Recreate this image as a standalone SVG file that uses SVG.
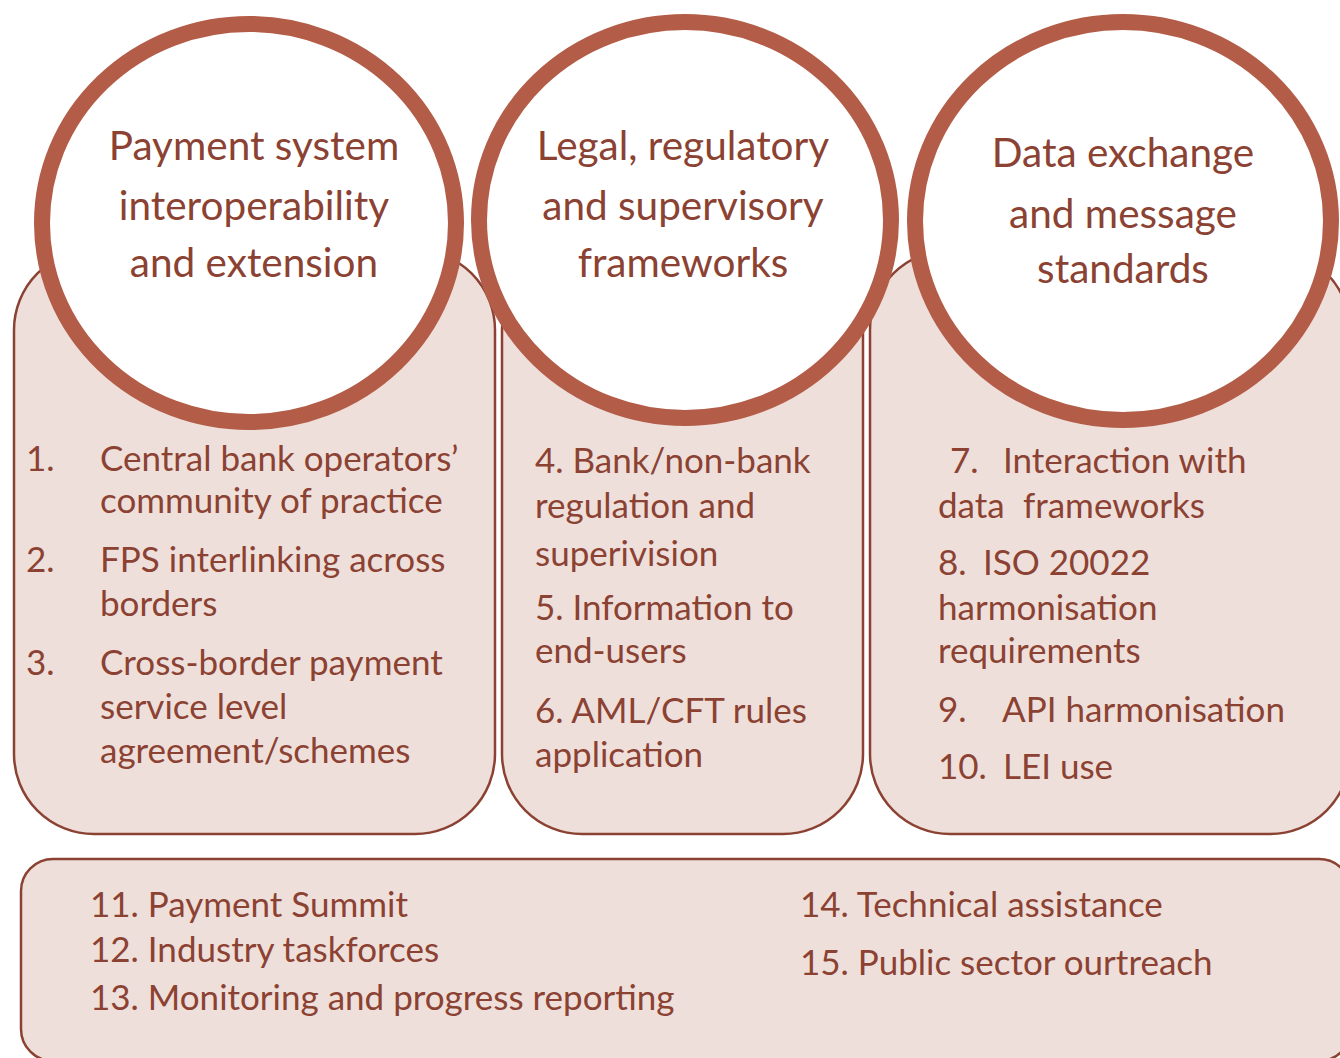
<svg xmlns="http://www.w3.org/2000/svg" width="1340" height="1058" viewBox="0 0 1340 1058">
<style>
.box{fill:#EFDFDB;stroke:#8B4232;stroke-width:2.5}
.ring{fill:#FFFFFF;stroke:#B35C47;stroke-width:16}
text{font-family:Lato,"Liberation Sans",sans-serif;fill:#8B4232}
.ct{font-size:40.5px;text-anchor:middle}
.bt{font-size:35px}
</style>
<rect width="1340" height="1058" fill="#FFFFFF"/>
<g id="box1"><rect class="box" x="14" y="250" width="481" height="584" rx="80" ry="80"/></g>
<g id="box2"><rect class="box" x="502" y="250" width="361" height="584" rx="80" ry="80"/></g>
<g id="box3"><rect class="box" x="870" y="250" width="480" height="584" rx="80" ry="80"/></g>
<g id="circle1">
<ellipse class="ring" cx="249" cy="223" rx="207" ry="199"/>
<text class="ct" x="254" y="160">Payment system</text>
<text class="ct" x="254" y="220">interoperability</text>
<text class="ct" x="254" y="277">and extension</text>
</g>
<g id="circle2">
<ellipse class="ring" cx="685" cy="220" rx="206" ry="198"/>
<text class="ct" x="683" y="160">Legal, regulatory</text>
<text class="ct" x="683" y="220">and supervisory</text>
<text class="ct" x="683" y="277">frameworks</text>
</g>
<g id="circle3">
<ellipse class="ring" cx="1123" cy="221" rx="208" ry="199"/>
<text class="ct" x="1123" y="167">Data exchange</text>
<text class="ct" x="1123" y="228">and message</text>
<text class="ct" x="1123" y="283">standards</text>
</g>
<g id="list1">
<text class="bt" x="26" y="471">1.</text>
<text class="bt" x="100" y="471">Central bank operators’</text>
<text class="bt" x="100" y="513">community of practice</text>
<text class="bt" x="26" y="572">2.</text>
<text class="bt" x="100" y="572">FPS interlinking across</text>
<text class="bt" x="100" y="616">borders</text>
<text class="bt" x="26" y="675">3.</text>
<text class="bt" x="100" y="675">Cross-border payment</text>
<text class="bt" x="100" y="719">service level</text>
<text class="bt" x="100" y="763">agreement/schemes</text>
</g>
<g id="list2">
<text class="bt" x="535" y="473">4. Bank/non-bank</text>
<text class="bt" x="535" y="518">regulation and</text>
<text class="bt" x="535" y="566">superivision</text>
<text class="bt" x="535" y="620">5. Information to</text>
<text class="bt" x="535" y="663">end-users</text>
<text class="bt" x="535" y="723">6. AML/CFT rules</text>
<text class="bt" x="535" y="767">application</text>
</g>
<g id="list3">
<text class="bt" x="950" y="473">7.</text>
<text class="bt" x="1003" y="473">Interaction with</text>
<text class="bt" x="938" y="518">data</text>
<text class="bt" x="1023" y="518">frameworks</text>
<text class="bt" x="938" y="575">8.</text>
<text class="bt" x="983" y="575">ISO 20022</text>
<text class="bt" x="938" y="620">harmonisation</text>
<text class="bt" x="938" y="663">requirements</text>
<text class="bt" x="938" y="722">9.</text>
<text class="bt" x="1002" y="722">API harmonisation</text>
<text class="bt" x="938" y="779">10.</text>
<text class="bt" x="1003" y="779">LEI use</text>
</g>
<g id="bottom">
<rect class="box" x="21" y="859" width="1330" height="202" rx="32" ry="32"/>
<text class="bt" x="90" y="917">11. Payment Summit</text>
<text class="bt" x="90" y="962">12. Industry taskforces</text>
<text class="bt" x="90" y="1010">13. Monitoring and progress reporting</text>
<text class="bt" x="800" y="917">14. Technical assistance</text>
<text class="bt" x="800" y="975">15. Public sector ourtreach</text>
</g>
<g id="connectors"/>
</svg>
